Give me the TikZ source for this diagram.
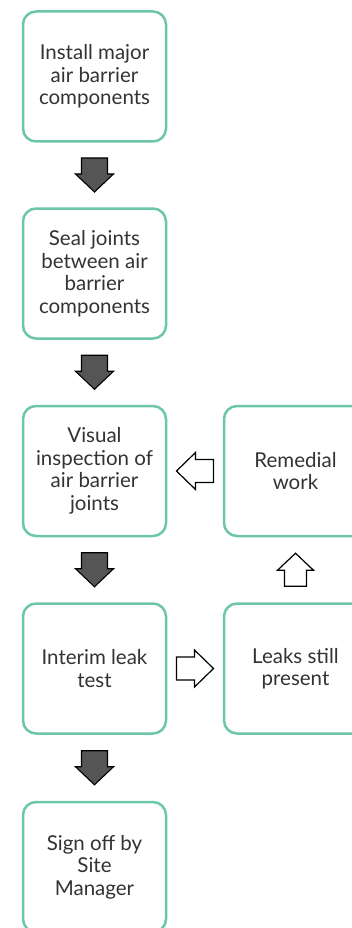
\documentclass[tikz,border=0pt]{standalone}
\usepackage{fontspec}
\setmainfont{Lato}
\usetikzlibrary{calc}
\definecolor{boxgreen}{RGB}{108,199,166}
\definecolor{txtgray}{RGB}{51,51,51}
\definecolor{arrowgray}{RGB}{85,85,85}
% #1 style, #2 centre, #3 angle, #4 length, #5 shaft width, #6 head width, #7 head length
\newcommand\blkarrow[7]{%
  \begin{scope}[shift={#2}, rotate=#3]
    \draw[#1] ({-#4/2},{-#5/2}) -- ({#4/2-#7},{-#5/2}) -- ({#4/2-#7},{-#6/2})
      -- ({#4/2},0) -- ({#4/2-#7},{#6/2}) -- ({#4/2-#7},{#5/2}) -- ({-#4/2},{#5/2}) -- cycle;
  \end{scope}}
\tikzset{
  stepbox/.style={draw=boxgreen, line width=2.5pt, rounded corners=13pt,
    minimum width=143pt, minimum height=130pt, inner sep=0pt, align=center,
    text=txtgray, fill=white, font=\fontsize{20.5}{22.5}\selectfont},
  solidarrow/.style={draw=black, fill=arrowgray, line width=1.1pt, line join=miter},
  hollowarrow/.style={draw=black, fill=white, line width=1.2pt, line join=miter}
}
\begin{document}
\begin{tikzpicture}[x=1pt, y=-1pt]
\useasboundingbox (0,0) rectangle (352,928);
\clip (0,0) rectangle (352,928);
\node[stepbox] (b1) at (94.5,76.5) {Install major\\air barrier\\components};
\node[stepbox] (b2) at (94.5,273.5) {Seal joints\\between air\\barrier\\components};
\node[stepbox] (b3) at (94.5,471) {Visual\\inspection of\\air barrier\\joints};
\node[stepbox] (b4) at (94.5,668.5) {Interim leak\\test};
\node[stepbox] (b5) at (94.5,867) {Sign off by\\Site\\Manager};
\node[stepbox] (r1) at (295.5,471) {Remedial\\work};
\node[stepbox] (r2) at (295.5,668.5) {Leaks still\\present};

\blkarrow{solidarrow}{($(b1.south)!0.5!(b2.north)$)}{-90}{34}{26}{38}{18}
\blkarrow{solidarrow}{($(b2.south)!0.5!(b3.north)$)}{-90}{34}{26}{38}{18}
\blkarrow{solidarrow}{($(b3.south)!0.5!(b4.north)$)}{-90}{34}{26}{38}{18}
\blkarrow{solidarrow}{($(b4.south)!0.5!(b5.north)$)}{-90}{34}{26}{38}{18}
\blkarrow{hollowarrow}{($(r1.west)!0.5!(b3.east)$)}{180}{37}{23}{37}{19}
\blkarrow{hollowarrow}{($(b4.east)!0.5!(r2.west)$)}{0}{37}{23}{37}{19}
\blkarrow{hollowarrow}{($(r2.north)!0.5!(r1.south)$)}{90}{33}{22}{36}{17}
\end{tikzpicture}
\end{document}
